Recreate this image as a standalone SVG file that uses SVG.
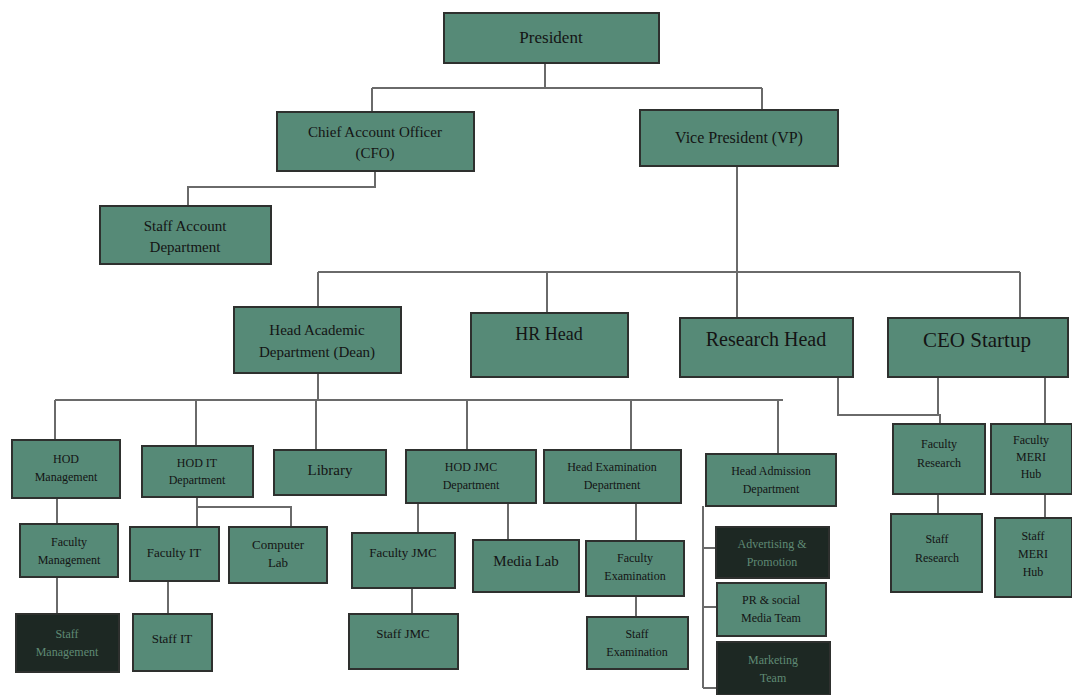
<svg xmlns="http://www.w3.org/2000/svg" width="1072" height="695" viewBox="0 0 1072 695">
<style>
.b{fill:#568a77;stroke:#2e302e;stroke-width:2}
.d{fill:#1d2823;stroke:#2e302e;stroke-width:2}
.t{font-family:"Liberation Serif",serif;fill:#141414;text-anchor:middle}
.dt{font-family:"Liberation Serif",serif;fill:#5f8a74;text-anchor:middle}
.c{fill:none;stroke:#6a6a6a;stroke-width:2}
</style>
<rect width="1072" height="695" fill="#ffffff"/>
<g id="connectors">
<path class="c" d="M545 63V88M372 88H762M372 88V112M762 88V110"/>
<path class="c" d="M375 171V187H188V206"/>
<path class="c" d="M737 166V318M318 272H1020M318 272V307M547 272V313M1020 272V318"/>
<path class="c" d="M318 373V401M55 400H783M55 400V440M196 400V446M316 400V450M467 400V450M631 400V450M778 400V454"/>
<path class="c" d="M838 377V415H940V424M938 377V415M1045 377V424M938 494V514M1045 494V518"/>
<path class="c" d="M57 498V524M57 577V614"/>
<path class="c" d="M197 497V527M197 507H291V527M168 581V614"/>
<path class="c" d="M418 503V533M508 503V540M412 588V614"/>
<path class="c" d="M636 503V541M636 596V617"/>
<path class="c" d="M703 506V688M703 548H716M703 607H717M703 688H717"/>
</g>
<g id="president"><rect class="b" x="444" y="13" width="215" height="50"/><text class="t" x="551" y="43" font-size="17">President</text></g>
<g id="cfo"><rect class="b" x="277" y="112" width="197" height="59"/><text class="t" x="375" y="137" font-size="15">Chief Account Officer</text><text class="t" x="375" y="158" font-size="15">(CFO)</text></g>
<g id="vp"><rect class="b" x="640" y="110" width="198" height="56"/><text class="t" x="739" y="143" font-size="16">Vice President (VP)</text></g>
<g id="staff-account"><rect class="b" x="100" y="206" width="171" height="58"/><text class="t" x="185" y="231" font-size="15">Staff Account</text><text class="t" x="185" y="252" font-size="15">Department</text></g>
<g id="dean"><rect class="b" x="234" y="307" width="167" height="66"/><text class="t" x="317" y="335" font-size="15">Head Academic</text><text class="t" x="317" y="357" font-size="15">Department (Dean)</text></g>
<g id="hr"><rect class="b" x="471" y="313" width="157" height="64"/><text class="t" x="549" y="340" font-size="18">HR Head</text></g>
<g id="research"><rect class="b" x="680" y="318" width="173" height="59"/><text class="t" x="766" y="346" font-size="20">Research Head</text></g>
<g id="ceo"><rect class="b" x="888" y="318" width="180" height="59"/><text class="t" x="977" y="347" font-size="21">CEO Startup</text></g>
<g id="hod-management"><rect class="b" x="12" y="440" width="108" height="58"/><text class="t" x="66" y="463" font-size="12">HOD</text><text class="t" x="66" y="481" font-size="12">Management</text></g>
<g id="hod-it"><rect class="b" x="142" y="446" width="111" height="51"/><text class="t" x="197" y="467" font-size="12">HOD IT</text><text class="t" x="197" y="484" font-size="12">Department</text></g>
<g id="library"><rect class="b" x="274" y="450" width="112" height="45"/><text class="t" x="330" y="475" font-size="15">Library</text></g>
<g id="hod-jmc"><rect class="b" x="406" y="450" width="130" height="53"/><text class="t" x="471" y="471" font-size="12">HOD JMC</text><text class="t" x="471" y="489" font-size="12">Department</text></g>
<g id="head-exam"><rect class="b" x="544" y="450" width="137" height="53"/><text class="t" x="612" y="471" font-size="12">Head Examination</text><text class="t" x="612" y="489" font-size="12">Department</text></g>
<g id="head-admission"><rect class="b" x="706" y="454" width="130" height="52"/><text class="t" x="771" y="475" font-size="12">Head Admission</text><text class="t" x="771" y="493" font-size="12">Department</text></g>
<g id="faculty-research"><rect class="b" x="893" y="424" width="92" height="70"/><text class="t" x="939" y="448" font-size="12">Faculty</text><text class="t" x="939" y="467" font-size="12">Research</text></g>
<g id="faculty-meri"><rect class="b" x="991" y="424" width="81" height="70"/><text class="t" x="1031" y="444" font-size="12">Faculty</text><text class="t" x="1031" y="461" font-size="12">MERI</text><text class="t" x="1031" y="478" font-size="12">Hub</text></g>
<g id="staff-research"><rect class="b" x="891" y="514" width="91" height="78"/><text class="t" x="937" y="543" font-size="12">Staff</text><text class="t" x="937" y="562" font-size="12">Research</text></g>
<g id="staff-meri"><rect class="b" x="995" y="518" width="77" height="79"/><text class="t" x="1033" y="540" font-size="12">Staff</text><text class="t" x="1033" y="558" font-size="12">MERI</text><text class="t" x="1033" y="576" font-size="12">Hub</text></g>
<g id="faculty-management"><rect class="b" x="20" y="524" width="98" height="53"/><text class="t" x="69" y="546" font-size="12">Faculty</text><text class="t" x="69" y="564" font-size="12">Management</text></g>
<g id="staff-management"><rect class="d" x="16" y="614" width="103" height="58"/><text class="dt" x="67" y="638" font-size="12">Staff</text><text class="dt" x="67" y="656" font-size="12">Management</text></g>
<g id="faculty-it"><rect class="b" x="130" y="527" width="89" height="54"/><text class="t" x="174" y="557" font-size="13">Faculty IT</text></g>
<g id="computer-lab"><rect class="b" x="229" y="527" width="98" height="56"/><text class="t" x="278" y="549" font-size="13">Computer</text><text class="t" x="278" y="567" font-size="13">Lab</text></g>
<g id="staff-it"><rect class="b" x="133" y="614" width="79" height="57"/><text class="t" x="172" y="643" font-size="13">Staff IT</text></g>
<g id="faculty-jmc"><rect class="b" x="352" y="533" width="103" height="55"/><text class="t" x="403" y="557" font-size="13">Faculty JMC</text></g>
<g id="media-lab"><rect class="b" x="473" y="540" width="106" height="52"/><text class="t" x="526" y="566" font-size="15">Media Lab</text></g>
<g id="staff-jmc"><rect class="b" x="349" y="614" width="109" height="55"/><text class="t" x="403" y="638" font-size="13">Staff JMC</text></g>
<g id="faculty-exam"><rect class="b" x="586" y="541" width="98" height="55"/><text class="t" x="635" y="562" font-size="12">Faculty</text><text class="t" x="635" y="580" font-size="12">Examination</text></g>
<g id="staff-exam"><rect class="b" x="587" y="617" width="101" height="52"/><text class="t" x="637" y="638" font-size="12">Staff</text><text class="t" x="637" y="656" font-size="12">Examination</text></g>
<g id="advertising"><rect class="d" x="716" y="527" width="113" height="51"/><text class="dt" x="772" y="548" font-size="12">Advertising &amp;</text><text class="dt" x="772" y="566" font-size="12">Promotion</text></g>
<g id="pr-social"><rect class="b" x="717" y="583" width="109" height="53"/><text class="t" x="771" y="604" font-size="12">PR &amp; social</text><text class="t" x="771" y="622" font-size="12">Media Team</text></g>
<g id="marketing"><rect class="d" x="717" y="642" width="113" height="53"/><text class="dt" x="773" y="664" font-size="12">Marketing</text><text class="dt" x="773" y="682" font-size="12">Team</text></g>
</svg>
